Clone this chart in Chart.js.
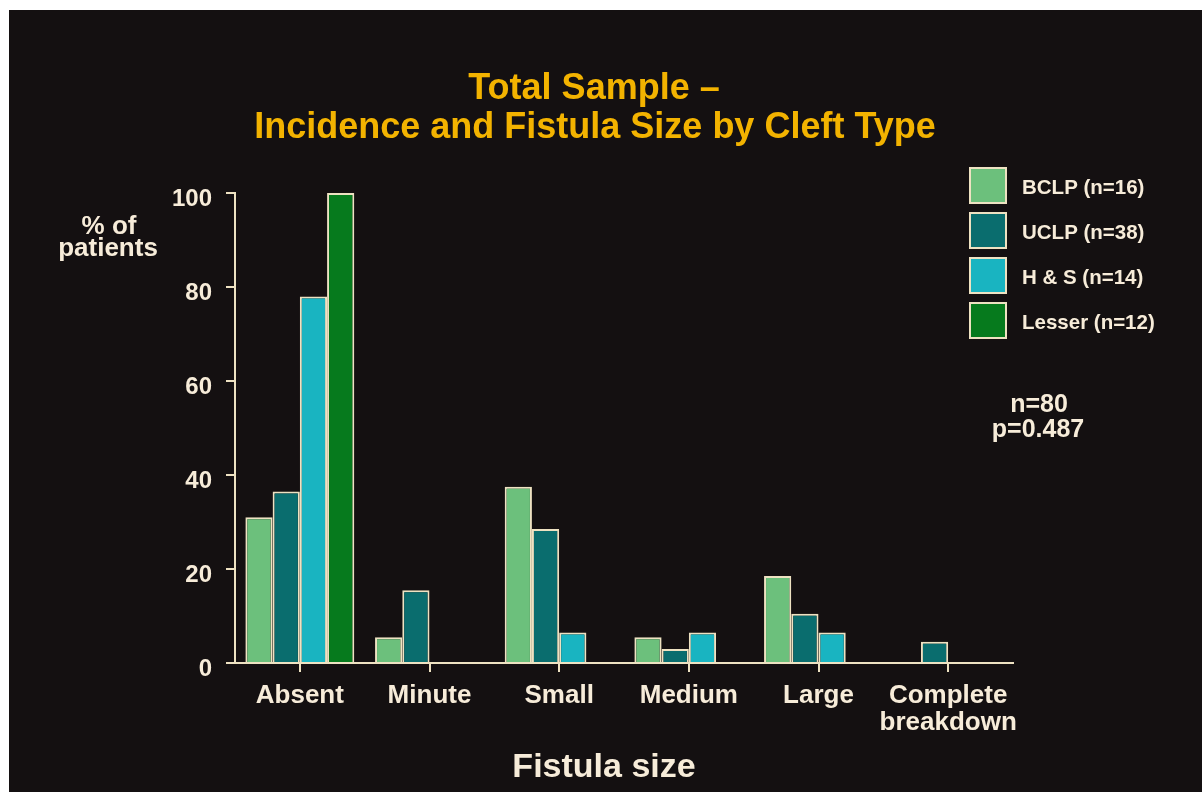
<!DOCTYPE html>
<html>
<head>
<meta charset="utf-8">
<title>Total Sample – Incidence and Fistula Size by Cleft Type</title>
<script src="https://cdn.jsdelivr.net/npm/chart.js@4/dist/chart.umd.min.js"></script>
<style>
  html, body { margin: 0; padding: 0; background: #ffffff; }
  #wrap { position: relative; width: 1202px; height: 795px; }
  canvas { display: block; }
</style>
</head>
<body>
<div id="wrap"><canvas id="chart" width="1202" height="795"></canvas></div>
<script>
// Fistula size categories and percentage of patients per cleft type
const categories = ['Absent', 'Minute', 'Small', 'Medium', 'Large', ['Complete', 'breakdown']];
const seriesNames = ['BCLP (n=16)', 'UCLP (n=38)', 'H & S (n=14)', 'Lesser (n=12)'];
const bclp   = [31, 5.5, 37.5, 5.5, 18.5, 0];
const uclp   = [36.5, 15.5, 28.5, 3, 10.5, 4.5];
const hs     = [78, 0, 6.5, 6.5, 6.5, 0];
const lesser = [100, 0, 0, 0, 0, 0];
const yTicks = [0, 20, 40, 60, 80, 100];

const titleLines = ['Total Sample –', 'Incidence and Fistula Size by Cleft Type'];
const yTitleLines = ['% of', 'patients'];
const xTitle = 'Fistula size';
const statLines = ['n=80', 'p=0.487'];

const colors = ['#6cc07c', '#0a6d6e', '#19b4c1', '#067a1d'];
const ink = '#f7ecd9';
const edge = '#eee2c2';
const gold = '#f3b300';
const bg = '#141011';
const FONT = '"Liberation Sans", Arial, Helvetica, sans-serif';

const seriesValues = [bclp, uclp, hs, lesser];

const decor = {
  id: 'decor',
  beforeDraw(chart) {
    const ctx = chart.ctx;
    ctx.save();
    ctx.fillStyle = '#ffffff';
    ctx.fillRect(0, 0, chart.width, chart.height);
    ctx.fillStyle = bg;
    ctx.fillRect(9, 10, chart.width - 9, 782);
    ctx.restore();
  },
  afterDraw(chart) {
    const ctx = chart.ctx;
    ctx.save();
    ctx.textAlign = 'center';
    ctx.textBaseline = 'alphabetic';

    // title
    ctx.fillStyle = gold;
    ctx.font = 'bold 36px ' + FONT;
    ctx.fillText(titleLines[0], 594, 99);
    ctx.fillText(titleLines[1], 595, 138);

    // y axis title
    ctx.fillStyle = ink;
    ctx.font = 'bold 26px ' + FONT;
    ctx.fillText(yTitleLines[0], 109, 234);
    ctx.fillText(yTitleLines[1], 108, 256);

    // x axis title
    ctx.font = 'bold 34px ' + FONT;
    ctx.fillText(xTitle, 604, 777);

    // stats
    ctx.font = 'bold 25px ' + FONT;
    ctx.fillText(statLines[0], 1039, 412);
    ctx.fillText(statLines[1], 1038, 437);

    // legend
    const ds = chart.data.datasets;
    ctx.textAlign = 'left';
    ctx.textBaseline = 'middle';
    ctx.font = 'bold 20.5px ' + FONT;
    ds.forEach((d, i) => {
      const top = 167 + i * 45;
      ctx.fillStyle = d.backgroundColor;
      ctx.fillRect(969, top, 38, 37);
      ctx.strokeStyle = edge;
      ctx.lineWidth = 2;
      ctx.strokeRect(970, top + 1, 36, 35);
      ctx.fillStyle = ink;
      ctx.fillText(d.label, 1022, top + 21);
    });
    ctx.restore();
  }
};

new Chart(document.getElementById('chart'), {
  type: 'bar',
  data: {
    labels: categories,
    datasets: seriesNames.map((name, i) => ({
      label: name,
      data: seriesValues[i],
      backgroundColor: colors[i],
      borderColor: edge,
      borderWidth: 2,
      borderSkipped: 'start',
      categoryPercentage: 0.84,
      barPercentage: 1.0
    }))
  },
  options: {
    responsive: false,
    animation: false,
    events: [],
    layout: { padding: { left: 135, right: 189, top: 193, bottom: 42 } },
    plugins: {
      legend: { display: false },
      title: { display: false },
      tooltip: { enabled: false }
    },
    scales: {
      x: {
        offset: true,
        afterFit(scale) { scale.height = 90; },
        border: { display: true, color: edge, width: 2 },
        grid: { offset: false, drawOnChartArea: false, drawTicks: true, tickLength: 9, color: edge, lineWidth: 2 },
        ticks: {
          color: ink,
          font: { family: FONT, size: 26, weight: 'bold', lineHeight: 1.04 },
          padding: 10,
          maxRotation: 0,
          autoSkip: false
        }
      },
      y: {
        min: 0,
        max: 100,
        afterFit(scale) { scale.width = 100; },
        afterBuildTicks(scale) { scale.ticks = yTicks.map(v => ({ value: v })); },
        border: { display: true, color: edge, width: 2 },
        grid: { drawOnChartArea: false, drawTicks: true, tickLength: 9, color: edge, lineWidth: 2 },
        ticks: {
          color: ink,
          font: { family: FONT, size: 24, weight: 'bold' },
          padding: 14,
          labelOffset: 6
        }
      }
    }
  },
  plugins: [decor]
});
</script>
</body>
</html>
